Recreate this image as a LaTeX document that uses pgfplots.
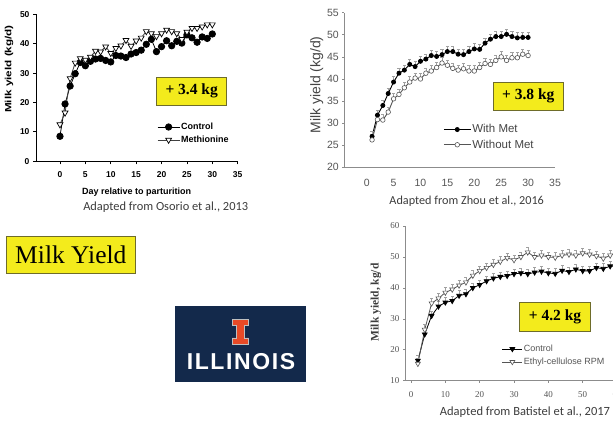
\documentclass[border=0pt]{standalone}
\usepackage{pgfplots}
\pgfplotsset{compat=1.18}
\usepackage{pgfplotstable}
\usepackage{fontspec}
\setmainfont{Liberation Sans}
\newfontfamily\serif{Liberation Serif}
\newfontfamily\capf{Carlito}
\definecolor{hlyellow}{HTML}{F3EB1C}
\definecolor{hlborder}{HTML}{6E6C2A}
\definecolor{ilnavy}{HTML}{13294B}
\definecolor{ilorange}{HTML}{E84A27}
\definecolor{capgray}{HTML}{3C3C3C}
\definecolor{axgray}{HTML}{8C8C8C}
\definecolor{tgray}{HTML}{555555}
\definecolor{ebgray}{HTML}{A0A0A0}

\pgfplotstableread{
day c m
0 8.5 12.5
1 19.5 16.5
2 25.6 28.2
3 29.8 33.5
4 33.6 35.0
5 32.5 34.5
6 34.0 35.5
7 34.8 37.5
8 35.0 37.3
9 34.3 39.0
10 33.8 36.8
11 36.0 38.5
12 35.8 39.3
13 35.3 41.2
14 36.5 39.2
15 37.0 41.0
16 37.8 42.0
17 39.8 44.2
18 41.5 43.5
19 37.3 42.5
20 39.0 43.5
21 41.0 44.7
22 39.3 44.2
23 40.8 43.5
24 40.2 41.5
25 43.0 44.0
26 42.0 45.3
27 40.5 45.3
28 42.3 45.8
29 41.8 46.5
30 43.3 46.5
}\osorio

\pgfplotstableread{
day w o
1 27.0 26.2
2 31.8 30.8
3 34.0 30.7
4 36.7 32.5
5 39.3 35.5
6 41.3 36.5
7 42.0 38.0
8 43.3 39.3
9 42.8 40.2
10 44.0 40.0
11 44.5 41.3
12 45.3 41.8
13 45.1 42.6
14 45.5 43.6
15 46.2 43.1
16 46.2 42.4
17 45.6 42.0
18 45.5 42.3
19 46.2 41.8
20 46.8 41.8
21 46.7 42.6
22 48.1 43.5
23 49.0 43.3
24 49.6 44.2
25 49.6 45.0
26 50.1 44.2
27 49.6 44.8
28 49.3 44.8
29 49.4 45.6
30 49.4 45.3
}\zhou

\pgfplotstableread{
day c r
2 16.5 15.5
4 25.0 26.5
6 31.0 35.0
8 34.0 36.6
10 35.3 38.5
12 35.8 39.5
14 37.5 40.8
16 38.0 41.8
18 40.0 44.0
20 41.0 45.5
22 42.2 46.5
24 43.1 47.5
26 43.6 48.5
28 43.9 49.7
30 44.5 49.0
32 44.8 50.0
34 44.5 51.5
36 45.0 50.0
38 45.3 50.5
40 44.8 50.0
42 44.6 49.8
44 45.6 50.5
46 45.2 50.8
48 46.0 50.5
50 45.5 51.2
52 45.5 50.8
54 46.5 50.3
56 46.2 49.5
58 47.0 50.5
60 47.0 51.5
}\batistel

\begin{document}
\begin{tikzpicture}
\path[use as bounding box] (0pt,0pt) rectangle (613pt,422pt);
\clip (0pt,0pt) rectangle (613pt,422pt);

% ---------------- Chart 1 (Osorio)
\begin{axis}[
  at={(36pt,260.7pt)}, anchor=south west, scale only axis,
  width=201.7pt, height=147pt,
  xmin=-4.72, xmax=35, ymin=0, ymax=50,
  axis x line*=bottom, axis y line*=left,
  axis line style={black, line width=0.8pt},
  xtick={0,5,...,35}, ytick={0,10,...,50},
  tick align=outside, major tick length=3pt,
  tick style={black, line width=0.8pt},
  ticklabel style={font=\bfseries\fontsize{8.5}{10}\selectfont},
  xticklabel style={yshift=-4pt},
  /pgf/number format/assume math mode=true,
  clip=false,
  legend style={at={(0.6,0.27)}, anchor=north west, draw=none, fill=none,
    font=\bfseries\fontsize{9}{10}\selectfont, inner sep=0pt, row sep=2.5pt,
    nodes={inner sep=1.2pt}},
  legend cell align=left,
  legend image code/.code={\draw[mark repeat=2,mark phase=2,#1] plot coordinates {(0pt,0pt) (11pt,0pt) (22pt,0pt)};},
]
\addplot[black, line width=0.8pt, mark=*, mark size=3.2pt] table[x=day,y=c]{\osorio};
\addlegendentry{Control}
\addplot[black!75, line width=0.8pt, mark=triangle*, mark size=3.4pt, mark options={rotate=180, fill=white, draw=black, line width=0.7pt}] table[x=day,y=m]{\osorio};
\addlegendentry{Methionine}
\end{axis}
\node[font=\bfseries\fontsize{9}{10}\selectfont] at (136.7pt,230pt) {Day relative to parturition};
\node[rotate=90, font=\bfseries\fontsize{9}{10}\selectfont] at (9pt,353pt) {\scalebox{1.3}[1]{Milk yield (kg/d)}};
\node[font=\capf\fontsize{12.4}{14}\selectfont, text=capgray] at (165.7pt,214.7pt) {Adapted from Osorio et al., 2013};
\node[draw=hlborder, fill=hlyellow, line width=0.7pt, minimum width=70pt, minimum height=28pt, inner sep=0pt,
  font=\serif\bfseries\fontsize{15.5}{18}\selectfont] at (191.7pt,330.7pt) {+ 3.4 kg};

% ---------------- Chart 2 (Zhou)
\begin{axis}[
  at={(344.3pt,254.7pt)}, anchor=south west, scale only axis,
  width=210.7pt, height=154.6pt,
  xmin=-4.16, xmax=35, ymin=20, ymax=55,
  axis x line*=bottom, axis y line*=left,
  axis line style={axgray, line width=0.6pt},
  xtick={0,5,...,35}, ytick={20,25,...,55},
  tick align=outside, major tick length=2pt,
  tick style={axgray, line width=0.6pt},
  xtick style={draw=none},
  ticklabel style={font=\fontsize{10.5}{12}\selectfont, text=tgray},
  xticklabel style={yshift=-6pt},
  /pgf/number format/assume math mode=true,
  clip=false,
  legend style={at={(0.47,0.285)}, anchor=north west, draw=none, fill=none,
    font=\fontsize{11.5}{13}\selectfont, text=tgray!80!black, inner sep=0pt, row sep=3pt,
    nodes={inner sep=1.2pt}},
  legend cell align=left,
  legend image code/.code={\draw[mark repeat=2,mark phase=2,#1] plot coordinates {(0pt,0pt) (13.3pt,0pt) (26.7pt,0pt)};},
]
\addplot[black, line width=0.9pt, mark=*, mark size=2pt,
  error bars/.cd, y dir=plus, y fixed=1.2,
  error bar style={ebgray, line width=0.5pt},
  error mark options={rotate=90, mark size=1.6pt, ebgray, line width=0.5pt}] table[x=day,y=w]{\zhou};
\addlegendentry{With Met}
\addplot[tgray, line width=0.9pt, mark=*, mark size=2.3pt, mark options={fill=white, draw=tgray, line width=0.6pt},
  error bars/.cd, y dir=plus, y fixed=1.2,
  error bar style={ebgray, line width=0.5pt},
  error mark options={rotate=90, mark size=1.6pt, ebgray, line width=0.5pt}] table[x=day,y=o]{\zhou};
\addlegendentry{Without Met}
\end{axis}
\node[rotate=90, font=\fontsize{14}{16}\selectfont, text=tgray!80!black] at (316.7pt,337pt) {Milk yield (kg/d)};
\node[font=\capf\fontsize{12.2}{14}\selectfont, text=capgray] at (466.7pt,221pt) {Adapted from Zhou et al., 2016};
\node[draw=hlborder, fill=hlyellow, line width=0.7pt, minimum width=70pt, minimum height=27.7pt, inner sep=0pt,
  font=\serif\bfseries\fontsize{15.5}{18}\selectfont] at (528.3pt,325.8pt) {+ 3.8 kg};

% ---------------- Chart 3 (Batistel)
\begin{axis}[
  at={(405pt,41.3pt)}, anchor=south west, scale only axis,
  width=218.9pt, height=154.7pt,
  xmin=-1.75, xmax=62, ymin=10, ymax=60,
  axis x line*=bottom, axis y line*=left,
  axis line style={axgray, line width=0.7pt},
  xtick={0,10,...,60}, ytick={10,20,...,60},
  tick align=outside, major tick length=2pt,
  tick style={axgray, line width=0.6pt},
  ticklabel style={font=\serif\fontsize{9}{10}\selectfont, text=tgray},
  xticklabel style={yshift=-5pt},
  /pgf/number format/assume math mode=true,
  clip=false,
  legend style={at={(0.442,0.24)}, anchor=north west, draw=none, fill=none,
    font=\fontsize{9}{10}\selectfont, text=tgray, inner sep=0pt, row sep=2.5pt,
    nodes={inner sep=1.2pt}},
  legend cell align=left,
  legend image code/.code={\draw[mark repeat=2,mark phase=2,#1] plot coordinates {(0pt,0pt) (10pt,0pt) (20pt,0pt)};},
]
\addplot[black, line width=0.8pt, mark=triangle*, mark size=2.7pt, mark options={rotate=180},
  error bars/.cd, y dir=plus, y fixed=1.6,
  error bar style={ebgray, line width=0.5pt},
  error mark options={rotate=90, mark size=1.5pt, ebgray, line width=0.5pt}] table[x=day,y=c]{\batistel};
\addlegendentry{Control}
\addplot[tgray, line width=0.8pt, mark=triangle*, mark size=2.9pt, mark options={rotate=180, fill=white, draw=tgray, line width=0.6pt},
  error bars/.cd, y dir=plus, y fixed=1.6,
  error bar style={ebgray, line width=0.5pt},
  error mark options={rotate=90, mark size=1.5pt, ebgray, line width=0.5pt}] table[x=day,y=r]{\batistel};
\addlegendentry{Ethyl-cellulose RPM}
\end{axis}
\node[rotate=90, font=\serif\bfseries\fontsize{11.5}{13}\selectfont, text=capgray] at (376pt,119.7pt) {Milk yield, kg/d};
\node[font=\capf\fontsize{12.5}{14}\selectfont, text=capgray] at (525pt,9.7pt) {Adapted from Batistel et al., 2017};
\node[draw=hlborder, fill=hlyellow, line width=0.7pt, minimum width=71.3pt, minimum height=28.7pt, inner sep=0pt,
  font=\serif\bfseries\fontsize{15.5}{18}\selectfont] at (555pt,105.3pt) {+ 4.2 kg};

% ---------------- Milk Yield title box
\node[draw=hlborder, fill=hlyellow, line width=0.8pt, minimum width=128.3pt, minimum height=36.7pt, inner sep=0pt,
  font=\serif\fontsize{25.5}{28}\selectfont, text=black] at (70.85pt,167.35pt) {Milk Yield};

% ---------------- Illinois logo
\fill[ilnavy] (175pt,40.3pt) rectangle (305.7pt,116pt);
\filldraw[fill=ilorange, draw=black!25, line width=0.6pt]
  (232pt,78.1pt) -- (248.5pt,78.1pt) -- (248.5pt,84.1pt) -- (244.3pt,84.1pt) -- (244.3pt,96.4pt) -- (248.5pt,96.4pt) -- (248.5pt,102.4pt)
  -- (232pt,102.4pt) -- (232pt,96.4pt) -- (236.2pt,96.4pt) -- (236.2pt,84.1pt) -- (232pt,84.1pt) -- cycle;
\node[text=white, font=\bfseries\fontsize{23}{26}\selectfont\addfontfeature{LetterSpace=7}] at (241pt,60.5pt) {ILLINOIS};

\end{tikzpicture}
\end{document}
